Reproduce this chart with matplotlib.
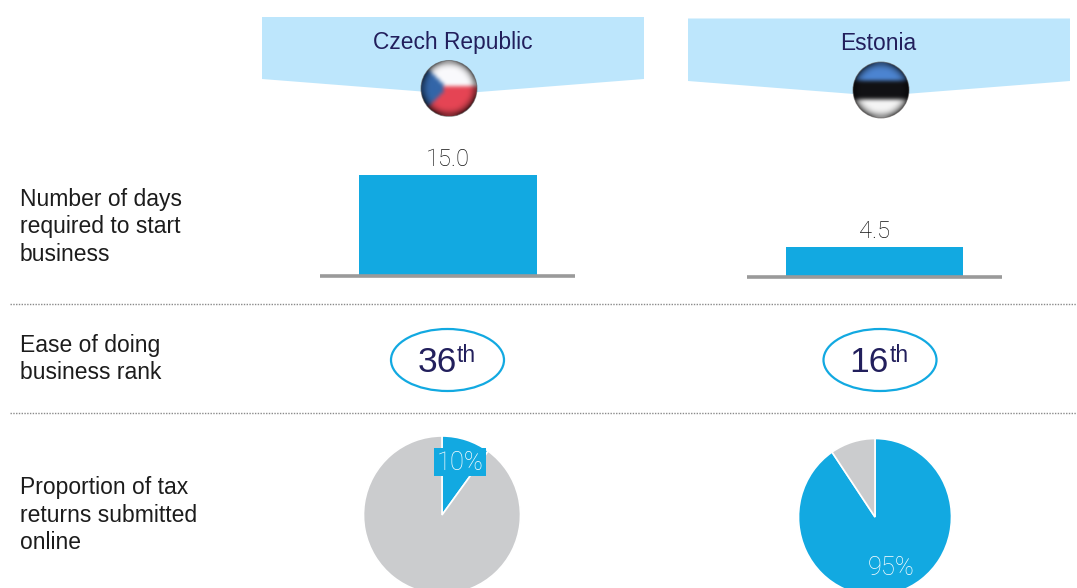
# Czech Republic vs Estonia comparison panel
import numpy as np
import matplotlib
matplotlib.use("Agg")
import matplotlib.pyplot as plt
from matplotlib.patches import Polygon, Ellipse, Rectangle, Circle

countries = ["Czech Republic", "Estonia"]
row_labels = ["Number of days\nrequired to start\nbusiness",
              "Ease of doing\nbusiness rank",
              "Proportion of tax\nreturns submitted\nonline"]
days = [15.0, 4.5]
ranks = ["36", "16"]
pie_labels = ["10%", "95%"]
# slice sizes as drawn in the picture (blue, grey)
czech_shares = [10, 90]
estonia_shares = [90.5, 9.5]

W, H = 1077, 588
BLUE = "#12a9e1"
PALE = "#bde6fc"
GREY = "#cbccce"
NAVY = "#221f5c"
TEXT = "#1c1c1c"
LIGHT = ["Roboto", "Liberation Sans"]

plt.rcParams['font.family'] = ['Liberation Sans', 'DejaVu Sans']

fig = plt.figure(figsize=(W / 100, H / 100), dpi=100)


def px_axes(left, top, right, bottom):
    # axes placed with pixel coordinates, y counted from the top
    return fig.add_axes([left / W, 1 - bottom / H, (right - left) / W, (bottom - top) / H])


# overlay in pixel coordinates for the decoration
bg = px_axes(0, 0, W, H)
bg.axis("off")

# header banners
for x0, top, edge, tip, name, ty in [(262, 17, 79, 94, countries[0], 42),
                                     (688, 18.5, 81, 96, countries[1], 43)]:
    x1 = x0 + 382
    mid = (x0 + x1) / 2 + 0.5
    bg.add_patch(Polygon([(x0, top), (x1, top), (x1, edge), (mid, tip), (x0, edge)],
                         closed=True, fc=PALE, ec="none"))
    bg.text(mid - 1, ty, name, color=NAVY, fontsize=16.4, ha="center", va="center")


# small glossy flags
def flag(cx, cy, r, kind):
    n = 15
    yy, xx = np.mgrid[-1:1:n * 1j, -1:1:n * 1j]
    img = np.ones((n, n, 3))
    if kind == "cz":
        img[yy < 0] = (0.98, 0.98, 0.99)
        img[yy >= 0] = (0.90, 0.27, 0.33)
        img[(xx + 1) < 0.85 * (1 - np.abs(yy))] = (0.20, 0.40, 0.66)
    else:
        img[yy < -0.42] = (0.30, 0.52, 0.82)
        img[(yy >= -0.42) & (yy < 0.3)] = (0.07, 0.07, 0.08)
        img[yy >= 0.3] = (0.96, 0.96, 0.96)
    rr = np.sqrt(xx ** 2 + yy ** 2)
    shade = np.clip(1.1 - 0.5 * rr ** 6, 0, 1)[..., None]
    im = bg.imshow(np.clip(img * shade, 0, 1), extent=(cx - r, cx + r, cy + r, cy - r),
                   interpolation="bicubic", zorder=3, aspect="auto")
    im.set_clip_path(Circle((cx, cy), r, transform=bg.transData))
    bg.add_patch(Circle((cx, cy), r, fc="none", ec="#55504f", lw=0.7, alpha=0.6, zorder=4))


flag(449, 88.5, 28, "cz")
flag(881, 90, 28, "ee")
bg.set_xlim(0, W)
bg.set_ylim(H, 0)

# row labels
for label, y in zip(row_labels, [227, 359, 515]):
    bg.text(20, y, label, color=TEXT, fontsize=16.5, ha="left", va="center", linespacing=1.26)

# dotted separators
for y in [304, 413]:
    bg.plot([10, W], [y, y], color="#8a8a8a", lw=1, ls=(0, (1, 1)))

# rank ovals
for cx, rank in zip([447.5, 880], ranks):
    bg.add_patch(Ellipse((cx, 360), 113, 62, fc="none", ec=BLUE, lw=1.6))
    bg.text(cx + 9, 363, rank, color=NAVY, fontsize=25.5, ha="right", va="center")
    bg.text(cx + 9.5, 356, "th", color=NAVY, fontsize=16.5, ha="left", va="center")

# bars
for i, (left, right, base) in enumerate([(320, 575, 276), (747, 1002, 277)]):
    ax = px_axes(left, base - 141, right, base)
    ax.bar([0], [days[i]], width=178, color=BLUE)
    ax.set_xlim(-127.5, 127.5)
    ax.set_ylim(0, 21)
    ax.axis("off")
    ax.plot([-127.5, 127.5], [0, 0], color="#9a9a9a", lw=2.6, clip_on=False,
            solid_capstyle="butt")
    ax.annotate(f"{days[i]:.1f}", (0, days[i]), xytext=(0, 3), textcoords="offset points",
                ha="center", va="bottom", fontsize=17, color="#111111",
                family=LIGHT, weight="light")

# pies
pie_specs = [(442, 515, 78.5, 79, czech_shares, [BLUE, GREY]),
             (875, 517, 76.5, 78.5, estonia_shares, [BLUE, GREY])]
for cx, cy, rx, ry, shares, cols in pie_specs:
    ax = px_axes(cx - rx, cy - ry, cx + rx, cy + ry)
    ax.pie(shares, colors=cols, startangle=90, counterclock=False, radius=1,
           wedgeprops={"edgecolor": "white", "linewidth": 1.2})
    ax.set_aspect("auto")
    ax.set_xlim(-1, 1)
    ax.set_ylim(-1, 1)
    ax.set_zorder(1)

top = px_axes(0, 0, W, H)
top.set_xlim(0, W)
top.set_ylim(H, 0)
top.axis("off")
top.set_zorder(2)
top.add_patch(Rectangle((434, 448), 52, 28, fc=BLUE, ec="none"))
top.text(460, 463, pie_labels[0], color="white", fontsize=18.4, ha="center", va="center",
         family=LIGHT, weight="light")
top.text(891, 568, pie_labels[1], color="white", fontsize=18.4, ha="center", va="center",
         family=LIGHT, weight="light")

fig.savefig("out.png", dpi=100)
